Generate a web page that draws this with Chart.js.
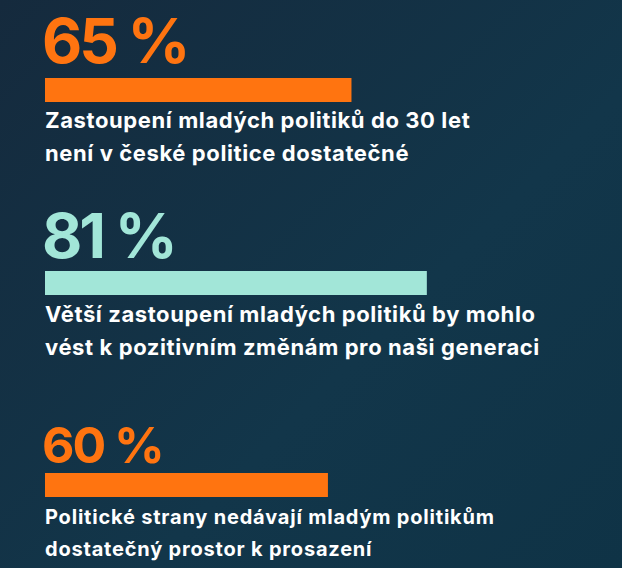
<!DOCTYPE html><html><head><meta charset="utf-8">
<script src="https://cdn.jsdelivr.net/npm/chart.js@4"></script>
<style>
html,body{margin:0;padding:0;width:622px;height:568px;overflow:hidden}
body{background:linear-gradient(135deg,#152a3d 0%,#12364a 60%,#0f3346 100%);font-family:Inter,"Open Sans",sans-serif;position:relative}
.num{position:absolute;left:42px;font-weight:700;font-size:62px;line-height:1;letter-spacing:-3px}
.txt{position:absolute;left:45px;color:#fff;font-weight:700;font-size:22px;line-height:33px;letter-spacing:0.6px;white-space:nowrap}
.bw{position:absolute;left:45px;width:471px;height:24px}
</style></head><body>
<div class="num" id="n0" style="top:10px"></div>
<div class="bw" style="top:78px"><canvas id="c0"></canvas></div>
<div class="txt" id="t0" style="top:104px"></div>
<div class="num" id="n1" style="top:205px"></div>
<div class="bw" style="top:271px"><canvas id="c1"></canvas></div>
<div class="txt" id="t1" style="top:298px"></div>
<div class="num" id="n2" style="top:420px;font-size:50px;letter-spacing:-2px"></div>
<div class="bw" style="top:473px"><canvas id="c2"></canvas></div>
<div class="txt" id="t2" style="top:501px;font-size:20px;line-height:32px;letter-spacing:0.8px"></div>
<script>
const values=[65,81,60];
const labels=["65 %","81 %","60 %"];
const captions=[["Zastoupení mladých politiků do 30 let","není v české politice dostatečné"],["Větší zastoupení mladých politiků by mohlo","vést k pozitivním změnám pro naši generaci"],["Politické strany nedávají mladým politikům","dostatečný prostor k prosazení"]];
const colors=["#ff7410","#a2e6d8","#ff7410"];
values.forEach((v,i)=>{
  const n=document.getElementById('n'+i);n.textContent=labels[i];n.style.color=colors[i];
  document.getElementById('t'+i).innerHTML=captions[i].join('<br>');
  new Chart(document.getElementById('c'+i),{type:'bar',
    data:{labels:[''],datasets:[{data:[v],backgroundColor:colors[i],barPercentage:1,categoryPercentage:1,borderWidth:0}]},
    options:{indexAxis:'y',responsive:true,maintainAspectRatio:false,animation:false,
      layout:{padding:0},
      plugins:{legend:{display:false},tooltip:{enabled:false}},
      scales:{x:{display:false,min:0,max:100},y:{display:false}}}});
});
</script></body></html>
